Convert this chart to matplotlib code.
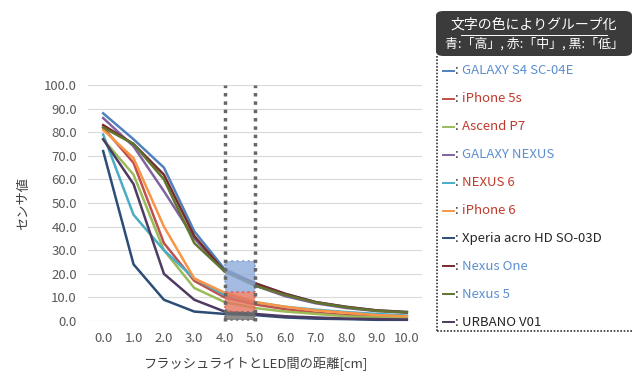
import matplotlib
matplotlib.use("Agg")
import matplotlib.pyplot as plt
from matplotlib.patches import Rectangle, FancyBboxPatch
import numpy as np

plt.rcParams['font.family'] = ['Noto Sans CJK JP', 'DejaVu Sans']

# 距離 [cm]
distance = [0, 1, 2, 3, 4, 5, 6, 7, 8, 9, 10]

# 端末名, 線の色, 文字の色(グループ), センサ値
names = ["GALAXY S4 SC-04E", "iPhone 5s", "Ascend P7", "GALAXY NEXUS", "NEXUS 6",
         "iPhone 6", "Xperia acro HD SO-03D", "Nexus One", "Nexus 5", "URBANO V01"]
line_colors = ["#4F81BD", "#C0504D", "#9BBB59", "#8064A2", "#4BACC6",
               "#F79646", "#2C4D75", "#772C2A", "#5F7530", "#4D3B62"]
groups = ["high", "mid", "mid", "high", "mid", "mid", "low", "high", "high", "low"]

galaxy_s4 = [88, 77, 65, 38, 22, 16, 11.5, 8, 6, 4.5, 3.8]
iphone_5s = [82, 67, 33, 17, 10, 7, 5, 3.5, 2.5, 2, 1.5]
ascend_p7 = [77, 62, 30, 14, 8, 5.5, 4, 3, 2, 1.5, 1.2]
galaxy_nexus = [86, 74, 55, 35, 21, 15, 10.5, 7.5, 5.5, 4.2, 3.5]
nexus_6 = [79, 45, 30, 18, 11, 8, 6, 4.8, 3.8, 3, 2.3]
iphone_6 = [81, 69, 40, 18, 12, 8, 6, 4.5, 3.5, 2.5, 2]
xperia = [72, 24, 9, 4, 3, 2.5, 1.5, 1, 0.8, 0.5, 0.5]
nexus_one = [83, 75, 62, 36, 21, 16, 11.5, 8, 6, 4.5, 3.8]
nexus_5 = [82, 75, 60, 33, 21, 15, 11, 7.8, 5.8, 4.3, 3.6]
urbano = [77, 58, 20, 9, 4, 3, 2, 1.5, 1, 0.8, 0.6]

values = [galaxy_s4, iphone_5s, ascend_p7, galaxy_nexus, nexus_6,
          iphone_6, xperia, nexus_one, nexus_5, urbano]

group_text_color = {"high": "#5B8FD0", "mid": "#C0392B", "low": "#262626"}

fig = plt.figure(figsize=(6.33, 3.76), dpi=100)
ax = fig.add_axes([88 / 633, 1 - 321 / 376, (422 - 88) / 633, (321 - 85) / 376])

for v, c in zip(values, line_colors):
    ax.plot(distance, v, color=c, linewidth=1.8, clip_on=False)

# 4.0〜5.0 の帯
ax.add_patch(Rectangle((4, 12.5), 1, 13, facecolor="#8EAADB", alpha=0.8,
                       edgecolor="#7F9FD6", linestyle=":", linewidth=1.5, zorder=3))
ax.add_patch(Rectangle((4, 4), 1, 8.5, facecolor="#E57560", alpha=0.8,
                       edgecolor="#E06A55", linestyle=":", linewidth=1.5, zorder=3))
ax.add_patch(Rectangle((4, 0.3), 1, 3.7, facecolor="#6E6E6E", alpha=0.8,
                       edgecolor="#6E6E6E", linestyle=":", linewidth=1.5, zorder=3))
for xv in [4, 5]:
    ax.plot([xv, xv], [0, 100], color="#666666", linestyle=(0, (1, 1.4)),
            linewidth=2.5, zorder=4, clip_on=False)

ax.set_xlim(-0.5, 10.5)
ax.set_ylim(0, 100)
ax.set_xticks(distance)
ax.set_xticklabels([f"{d:.1f}" for d in distance])
ax.set_yticks(np.arange(0, 101, 10))
ax.set_yticklabels([f"{t:.1f}" for t in np.arange(0, 101, 10)])
ax.grid(axis="y", color="#D9D9D9", linewidth=0.8)
ax.set_axisbelow(True)
for s in ax.spines.values():
    s.set_visible(False)
ax.tick_params(length=0, labelsize=9.5, colors="#595959", pad=8)
ax.set_xlabel("フラッシュライトとLED間の距離[cm]", fontsize=9.5, color="#404040", labelpad=8)
ax.set_ylabel("センサ値", fontsize=9.5, color="#404040", labelpad=10)

# 凡例(手描き)
fig.add_artist(FancyBboxPatch((436 / 633, 1 - 56 / 376), 196 / 633, 45 / 376,
                              boxstyle="round,pad=0,rounding_size=0.012",
                              facecolor="#3B3B3B", edgecolor="none",
                              transform=fig.transFigure))
fig.text(534 / 633, 1 - 25 / 376, "文字の色によりグループ化", color="white", fontsize=10,
         ha="center", va="center")
fig.add_artist(plt.Line2D([461 / 633, 607 / 633], [1 - 35 / 376, 1 - 35 / 376],
                          color="white", linewidth=0.7, transform=fig.transFigure))
fig.text(534 / 633, 1 - 44 / 376, "青:「高」, 赤:「中」, 黒:「低」", color="white",
         fontsize=9.3, ha="center", va="center")

box_kw = dict(color="#333333", linestyle=(0, (1, 1)), linewidth=1.2, transform=fig.transFigure)
fig.add_artist(plt.Line2D([437 / 633, 437 / 633], [1 - 56 / 376, 1 - 331 / 376], **box_kw))
fig.add_artist(plt.Line2D([437 / 633, 633 / 633], [1 - 331 / 376, 1 - 331 / 376], **box_kw))

for i, (n, c, g) in enumerate(zip(names, line_colors, groups)):
    yy = 1 - (71 + i * 27.9) / 376
    fig.add_artist(plt.Line2D([443 / 633, 454 / 633], [yy, yy], color=c, linewidth=1.4,
                              transform=fig.transFigure))
    fig.text(455 / 633, yy, ":", color="#262626", fontsize=9.5, ha="left", va="center")
    fig.text(462 / 633, yy, n, color=group_text_color[g], fontsize=9.5, ha="left", va="center")

fig.savefig("out.png", dpi=100)
